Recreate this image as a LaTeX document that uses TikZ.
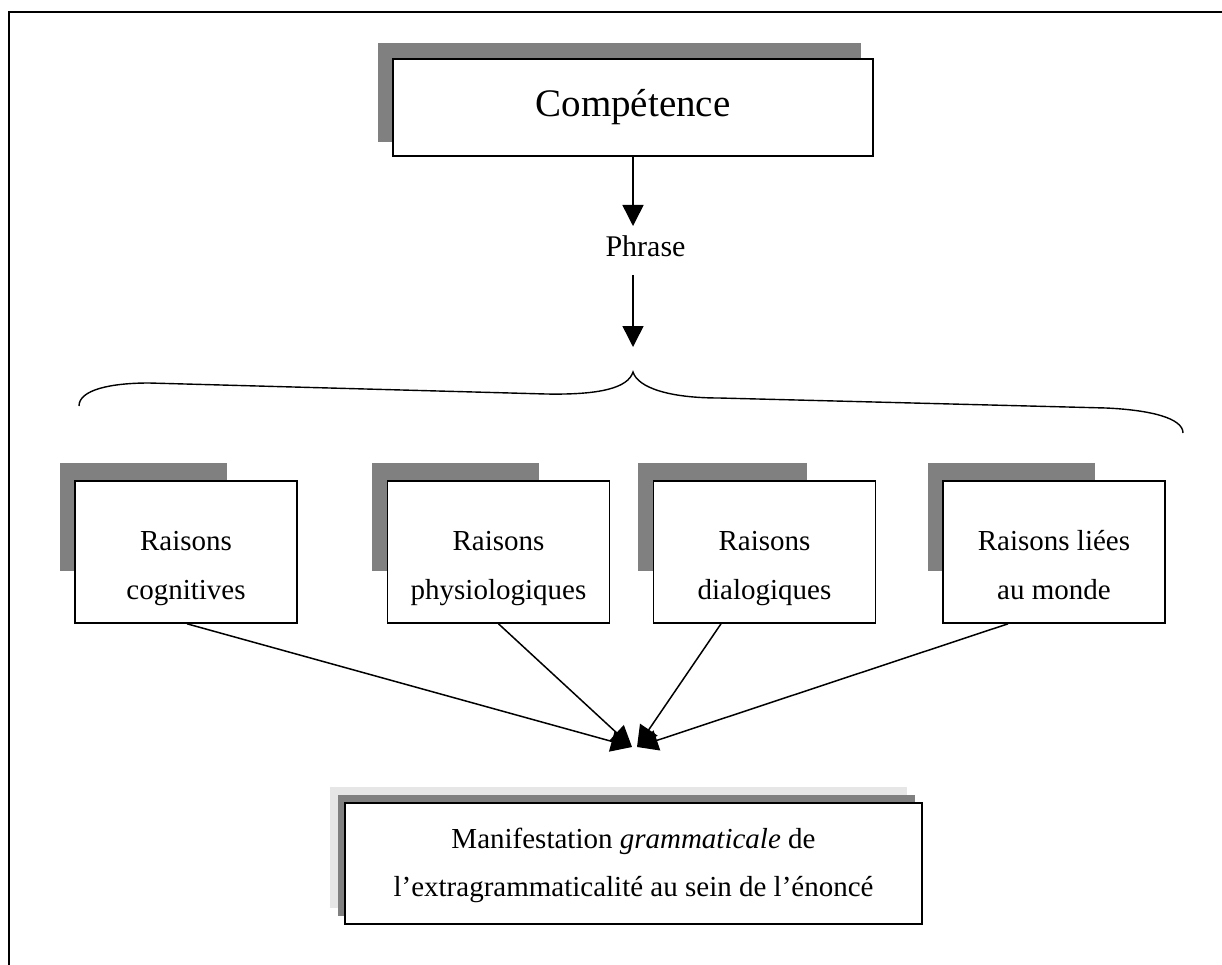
\documentclass[tikz,border=0pt]{standalone}
\usepackage{fontspec}
\setmainfont{Liberation Serif}
\usetikzlibrary{arrows.meta,calc}
\definecolor{shade}{HTML}{808080}
\definecolor{lightshade}{HTML}{E6E6E6}
\begin{document}
\begin{tikzpicture}[x=1pt,y=-1pt,
  box/.style={draw=black, line width=1.6pt, fill=white, inner sep=0pt},
  rowbox/.style={box, minimum width=222pt, minimum height=142pt},
  txt/.style={inner sep=0pt, anchor=base, font=\fontsize{29}{35}\selectfont},
  arr/.style={line width=1.5pt, -{Triangle[length=21pt,width=21pt]}},
  shadowfill/.style={fill=shade}
]
\useasboundingbox (0,0) rectangle (1222,965);
% frame
\draw[line width=2.2pt] (9,965) -- (9,12) -- (1222,12);

% Competence
\fill[shadowfill] (378,43) rectangle (861,142);
\node[box, minimum width=480pt, minimum height=97pt, font=\fontsize{39}{46}\selectfont] (comp) at (633,107.5) {Compétence};

% Phrase
\node[txt, font=\fontsize{30}{36}\selectfont] (phrase) at (645.5,257) {Phrase};
\coordinate (a1end) at (633,226);
\coordinate (a2start) at (633,275);
\coordinate (cusp) at (633,372);
\draw[arr] (comp.south) -- (a1end);
\draw[arr] (a2start) -- ([yshift=25pt]cusp);

% brace
\draw[line width=1.4pt] (79,406) .. controls (79,390) and (110,383) .. (149,383)
  -- (546,394) .. controls (600,395) and (628,388) .. (cusp)
  .. controls (638,388) and (670,398) .. (719,398)
  -- (1106,408) .. controls (1150,410) and (1183,418) .. (1183,433);

% row boxes
\fill[shadowfill] (60,463) rectangle (227,571);
\node[rowbox] (b1) at (186,552) {};
\node[txt] (t1a) at (b1.center |- 0,550) {Raisons};
\node[txt] (t1b) at (b1.center |- 0,599) {cognitives};

\fill[shadowfill] (372,463) rectangle (539,571);
\node[rowbox] (b2) at (498.5,552) {};
\node[txt] (t2a) at (b2.center |- 0,550) {Raisons};
\node[txt] (t2b) at (b2.center |- 0,599) {physiologiques};

\fill[shadowfill] (638,463) rectangle (807,571);
\node[rowbox] (b3) at (764.5,552) {};
\node[txt] (t3a) at (b3.center |- 0,550) {Raisons};
\node[txt] (t3b) at (b3.center |- 0,599) {dialogiques};

\fill[shadowfill] (928,463) rectangle (1095,571);
\node[rowbox] (b4) at (1054,552) {};
\node[txt] (t4a) at (b4.center |- 0,550) {Raisons liées};
\node[txt] (t4b) at (b4.center |- 0,599) {au monde};

% bottom box
\fill[lightshade] (330,787) rectangle (907,908);
\fill[shadowfill] (338,795) rectangle (915,916);
\node[box, minimum width=577pt, minimum height=121pt] (res) at (633.5,863.5) {};
\node[txt] (r1) at (res.center |- 0,848) {Manifestation \textit{grammaticale} de};
\node[txt] (r2) at (res.center |- 0,896) {l’extragrammaticalité au sein de l’énoncé};

% converging arrows
\coordinate (tipL) at (632,747);
\coordinate (tipR) at (637,747);
\draw[arr] ($(b1.south)+(1,0)$) -- (tipL);
\draw[arr] (b2.south) -- (tipL);
\draw[arr] ($(b3.south)+(-43.5,0)$) -- (tipR);
\draw[arr] ($(b4.south)+(-46,0)$) -- (tipR);
\end{tikzpicture}
\end{document}
